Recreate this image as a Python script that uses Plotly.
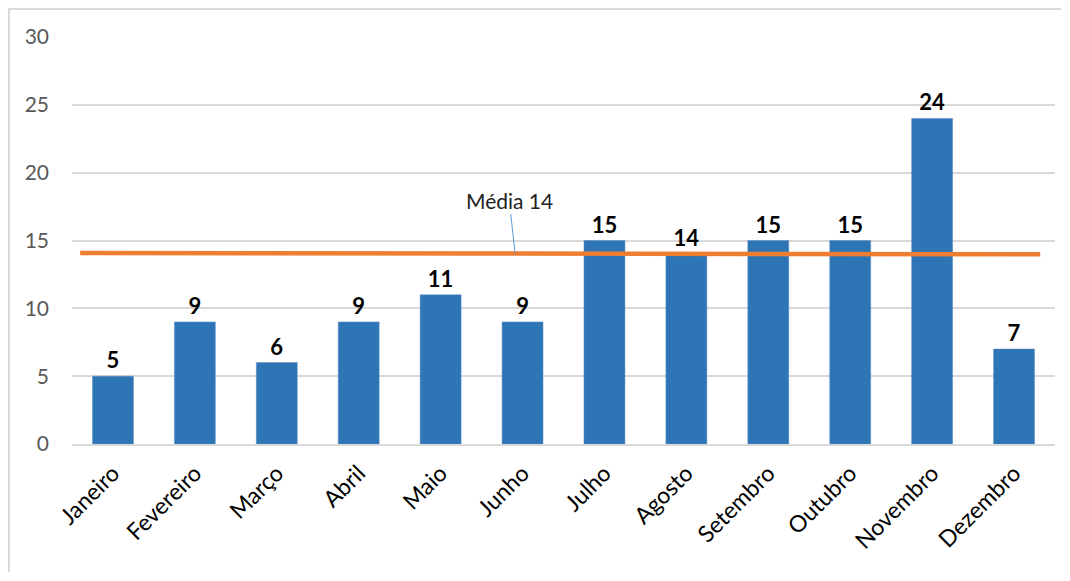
import plotly.graph_objects as go

meses = ["Janeiro", "Fevereiro", "Março", "Abril", "Maio", "Junho",
         "Julho", "Agosto", "Setembro", "Outubro", "Novembro", "Dezembro"]
valores = [5, 9, 6, 9, 11, 9, 15, 14, 15, 15, 24, 7]
media_x = [-0.4, 11.32]
media_y = [14.08, 13.98]
media_label = "Média 14"
y_ticks = [0, 5, 10, 15, 20, 25, 30]

x_pos = list(range(len(meses)))

W, H = 1054, 565
L, R, T, B = 64, 7, 29, 129
pw, ph = W - L - R, H - T - B

fig = go.Figure()
fig.add_trace(go.Bar(
    x=x_pos, y=valores, width=0.5,
    marker=dict(color="#2E75B6", line=dict(color="#5B8FC7", width=0.5)),
    text=[str(v) for v in valores], textposition="outside",
    textfont=dict(family="Lato", size=22, color="black"),
    texttemplate="<b>%{text}</b>", cliponaxis=False,
))
fig.add_trace(go.Scatter(
    x=media_x, y=media_y, mode="lines",
    line=dict(color="#ED7D31", width=4.5), hoverinfo="skip",
))

fig.add_annotation(
    x=4.91, y=14.0, xref="x", yref="y", text=media_label,
    showarrow=True, arrowhead=0, arrowwidth=1, arrowcolor="#5B9BD5",
    ax=-6, ay=-54, font=dict(family="Lato", size=21, color="#222222"),
)

# chart frame: only the top and left edges are visible
fx0 = (-L + 1) / pw
fx1 = (pw + R - 1) / pw
fy0 = (-B + 1) / ph
fy1 = (ph + T - 1) / ph
fig.add_shape(type="path", xref="paper", yref="paper",
              path=f"M {fx0},{fy0} L {fx0},{fy1} L {fx1},{fy1}",
              line=dict(color="#D9D9D9", width=2))

fig.update_layout(
    width=W, height=H,
    margin=dict(l=L, r=R, t=T, b=B),
    paper_bgcolor="white", plot_bgcolor="white",
    showlegend=False, bargap=0.5,
    font=dict(family="Lato"),
)
fig.update_xaxes(
    range=[-0.5, 11.5], tickvals=x_pos, ticktext=meses, tickangle=-45,
    tickfont=dict(family="Lato", size=23, color="black"),
    showgrid=False, showline=True, linecolor="#D9D9D9", linewidth=1.5,
    ticks="", zeroline=False, automargin=False, ticklabelstandoff=5,
)
fig.update_yaxes(
    range=[0, 30], tickvals=y_ticks,
    tickfont=dict(family="Lato", size=21, color="#595959"),
    showgrid=True, gridcolor="#D9D9D9", gridwidth=1.5,
    zeroline=False, showline=False, ticks="", ticklabelstandoff=22,
    automargin=False,
)

fig.write_html("out.html")
